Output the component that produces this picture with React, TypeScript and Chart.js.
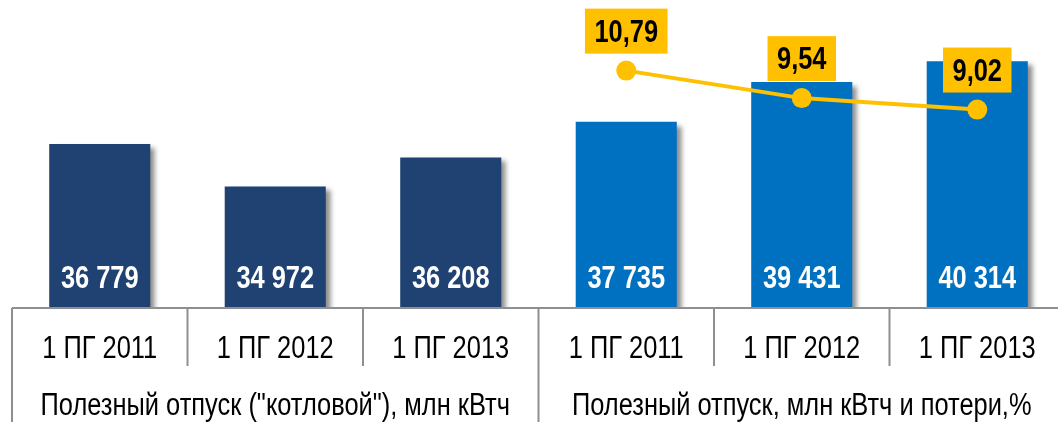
import React, { useEffect, useRef } from "react";
import { Chart, registerables } from "chart.js";

Chart.register(...registerables);

const categories = ["1 ПГ 2011", "1 ПГ 2012", "1 ПГ 2013", "1 ПГ 2011", "1 ПГ 2012", "1 ПГ 2013"];
const groupLabels = ['Полезный отпуск ("котловой"), млн кВтч', "Полезный отпуск, млн кВтч и потери,%"];
const groupSizes = [3, 3];
const supplyValues = [36779, 34972, 36208, 37735, 39431, 40314];
const supplyLabels = ["36 779", "34 972", "36 208", "37 735", "39 431", "40 314"];
const lossValues = [null, null, null, 10.79, 9.54, 9.02];
const lossLabels = ["", "", "", "10,79", "9,54", "9,02"];

const NAVY = "#204273";
const BLUE = "#0070C0";
const YELLOW = "#FFC000";
const GRID = "#8f8f8f";
const FONT = "'Liberation Sans', Arial, sans-serif";
const NARROW = 0.82;

const barColors = supplyValues.map((_, i) => (i < 3 ? NAVY : BLUE));

function fillNarrow(ctx: CanvasRenderingContext2D, txt: string, x: number, y: number) {
  ctx.save();
  ctx.translate(x, y);
  ctx.scale(NARROW, 1);
  ctx.fillText(txt, 0, 0);
  ctx.restore();
}

const shadowPlugin = {
  id: "barShadow",
  beforeDatasetDraw(chart: any, args: any) {
    if (args.meta.type !== "bar") return;
    const ctx = chart.ctx;
    ctx.save();
    ctx.shadowColor = "rgba(0,0,0,0.45)";
    ctx.shadowBlur = 5;
    ctx.shadowOffsetX = 5;
    ctx.shadowOffsetY = 4;
  },
  afterDatasetDraw(chart: any, args: any) {
    if (args.meta.type !== "bar") return;
    chart.ctx.restore();
  },
};

const decorPlugin = {
  id: "decor",
  afterDraw(chart: any) {
    const ctx = chart.ctx;
    const area = chart.chartArea;
    const xs = chart.scales.x;
    const n = categories.length;
    const step = xs.getPixelForValue(1) - xs.getPixelForValue(0);
    const H = chart.height;
    const W = chart.width;

    ctx.save();
    ctx.strokeStyle = GRID;
    ctx.lineWidth = 2;
    ctx.beginPath();
    ctx.moveTo(area.left, area.bottom);
    ctx.lineTo(W, area.bottom);
    ctx.stroke();

    const groupStarts: number[] = [];
    let acc = 0;
    groupSizes.forEach((s) => {
      groupStarts.push(acc);
      acc += s;
    });
    for (let i = 0; i < n; i++) {
      const bx = xs.getPixelForValue(i) - step / 2;
      const isGroup = groupStarts.includes(i);
      ctx.beginPath();
      ctx.moveTo(bx, area.bottom);
      ctx.lineTo(bx, isGroup ? H : area.bottom + 58);
      ctx.stroke();
    }

    ctx.fillStyle = "#000";
    ctx.textAlign = "center";
    ctx.textBaseline = "alphabetic";
    ctx.font = `31px ${FONT}`;
    categories.forEach((c, i) => {
      fillNarrow(ctx, c, xs.getPixelForValue(i), area.bottom + 50);
    });
    groupLabels.forEach((g, gi) => {
      const s = groupStarts[gi];
      const e = s + groupSizes[gi] - 1;
      const cx = (xs.getPixelForValue(s) + xs.getPixelForValue(e)) / 2;
      fillNarrow(ctx, g, cx, area.bottom + 107);
    });

    const barMeta = chart.getDatasetMeta(1);
    ctx.font = `bold 31px ${FONT}`;
    ctx.fillStyle = "#fff";
    barMeta.data.forEach((el: any, i: number) => {
      fillNarrow(ctx, supplyLabels[i], el.x, area.bottom - 20);
    });

    const lineMeta = chart.getDatasetMeta(0);
    lineMeta.data.forEach((el: any, i: number) => {
      if (lossValues[i] == null) return;
      const txt = lossLabels[i];
      const w = ctx.measureText(txt).width * NARROW + 19;
      const top = el.y - 62;
      ctx.fillStyle = YELLOW;
      ctx.fillRect(el.x - w / 2, top, w, 45);
      ctx.fillStyle = "#000";
      fillNarrow(ctx, txt, el.x, el.y - 29);
    });
    ctx.restore();
  },
};

export default function App() {
  const ref = useRef<HTMLCanvasElement | null>(null);
  useEffect(() => {
    if (!ref.current) return;
    const chart = new Chart(ref.current, {
      type: "bar",
      data: {
        labels: categories,
        datasets: [
          {
            type: "line",
            label: "Потери, %",
            data: lossValues,
            yAxisID: "y2",
            borderColor: YELLOW,
            backgroundColor: YELLOW,
            borderWidth: 4,
            pointRadius: 10,
            pointBackgroundColor: YELLOW,
            pointBorderWidth: 0,
            spanGaps: false,
            order: 0,
            clip: false as any,
          } as any,
          {
            type: "bar",
            label: "Полезный отпуск",
            data: supplyValues,
            yAxisID: "y",
            backgroundColor: barColors,
            barPercentage: 0.576,
            categoryPercentage: 1,
            order: 1,
          },
        ],
      },
      options: {
        animation: false,
        responsive: true,
        maintainAspectRatio: false,
        layout: { autoPadding: false, padding: { left: 12, right: 0, top: 0, bottom: 114 } } as any,
        plugins: { legend: { display: false }, tooltip: { enabled: false } },
        scales: {
          x: { display: false, offset: true, grid: { display: false } },
          y: { display: false, min: 29780, max: 42930 },
          y2: { display: false, min: 0, max: 14, position: "right" },
        },
      },
      plugins: [shadowPlugin, decorPlugin],
    });
    return () => chart.destroy();
  }, []);
  return (
    <div style={{ position: "fixed", left: 0, top: 0, width: 1058, height: 422, overflow: "hidden", background: "#fff" }}>
      <div style={{ position: "relative", width: 1065, height: 422 }}>
        <canvas ref={ref} />
      </div>
    </div>
  );
}
